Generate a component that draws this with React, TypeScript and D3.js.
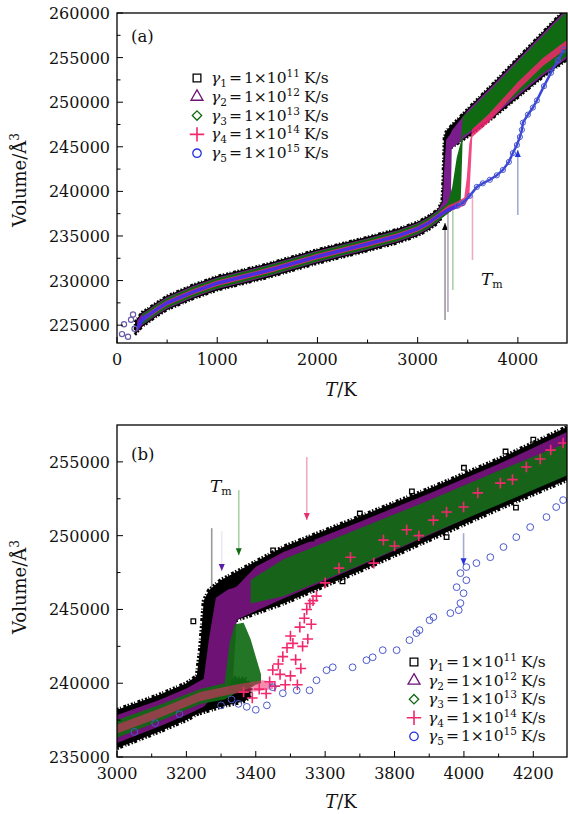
import React from 'react';
import * as d3 from 'd3';

type Row = [number, number, number]; // T, lower V, upper V
type Pt = [number, number];

// ---------- panel (a): 0-4500 K ----------
const blackA: Row[][] = [[
  [180, 223900, 225400], [250, 224800, 226500], [300, 225200, 226800], [400, 226000, 227600],
  [500, 226700, 228300], [750, 227900, 229500], [1000, 228900, 230500], [1500, 230300, 231900],
  [2000, 231900, 233500], [2500, 233300, 234900], [2800, 234200, 235800], [3000, 235000, 236600],
  [3100, 235600, 237200], [3200, 236400, 238000], [3240, 237000, 238900], [3250, 237500, 241500],
  [3262, 239500, 246000], [3280, 244000, 246700], [3300, 244600, 247000], [3500, 246100, 249300],
  [3750, 248200, 252100], [4000, 250500, 255000], [4250, 252800, 257900], [4500, 254800, 260800],
]];
const purpleA: Row[][] = [[
  [200, 224200, 225500], [250, 225000, 226300], [300, 225350, 226650], [400, 226150, 227450],
  [500, 226850, 228150], [750, 228050, 229350], [1000, 229050, 230350], [1500, 230450, 231750],
  [2000, 232050, 233350], [2500, 233450, 234750], [2800, 234350, 235650], [3000, 235150, 236450],
  [3100, 235750, 237050], [3200, 236550, 237850], [3250, 237200, 238800], [3262, 237500, 242000],
  [3285, 237900, 245800], [3330, 238300, 246500], [3340, 244800, 246800], [3500, 246300, 249100],
  [3750, 248400, 251900], [4000, 250700, 254800], [4250, 253000, 257700], [4500, 255000, 260600],
]];
const greenA: Row[][] = [[
  [250, 225100, 226200], [300, 225450, 226550], [400, 226250, 227350], [500, 226950, 228050],
  [750, 228150, 229250], [1000, 229150, 230250], [1500, 230550, 231650], [2000, 232150, 233250],
  [2500, 233550, 234650], [2800, 234450, 235550], [3000, 235250, 236350], [3100, 235850, 236950],
  [3200, 236650, 237750], [3300, 237500, 238700], [3345, 237900, 240500], [3390, 238300, 243800],
  [3430, 239000, 245500], [3450, 246200, 248400], [3500, 246550, 248850], [3750, 248650, 251650],
  [4000, 250950, 254550], [4250, 253250, 257450], [4500, 255250, 260350],
]];
const pinkA: Row[][] = [[
  [250, 225350, 225950], [300, 225700, 226300], [400, 226500, 227100], [500, 227200, 227800],
  [750, 228400, 229000], [1000, 229400, 230000], [1500, 230800, 231400], [2000, 232400, 233000],
  [2500, 233800, 234400], [2800, 234700, 235300], [3000, 235500, 236100], [3100, 236100, 236700],
  [3200, 236900, 237500], [3300, 237700, 238400], [3400, 238100, 238900], [3465, 238400, 239300],
  [3490, 238800, 241500], [3515, 239300, 245300], [3545, 246100, 247000], [3700, 247650, 248550],
  [4000, 251350, 252250], [4250, 254050, 254950], [4500, 256150, 257050],
]];
const blueA: Row[][] = [[
  [200, 224350, 225050], [250, 225250, 225950], [300, 225750, 226250], [400, 226600, 227000],
  [500, 227300, 227700], [750, 228500, 228900], [1000, 229500, 229900], [1500, 230900, 231300],
  [2000, 232500, 232900], [2500, 233900, 234300], [2800, 234800, 235200], [3000, 235600, 236000],
  [3100, 236200, 236600], [3200, 237000, 237400], [3300, 237700, 238150], [3400, 238150, 238650],
]];
const blueA_path: Pt[] = [
  [3400, 238400], [3450, 238700], [3520, 239500], [3590, 240500], [3650, 240900], [3720, 241300],
  [3790, 241800], [3850, 242400], [3910, 243300], [3950, 244300], [3990, 245200], [4020, 246100],
  [4040, 246900], [4050, 247700], [4100, 248600], [4150, 249400], [4190, 250200], [4260, 251800],
  [4330, 253300], [4400, 254700], [4460, 255900],
];
const blueA_start: Pt[] = [[50, 224000], [70, 225100], [110, 223700], [140, 225600], [160, 226200], [175, 224600]];
// arrows: [tail V, head V] for the Tm markers
const arrowsA: Pt[] = [[225570, 236450], [226470, 238460], [228930, 239000], [232300, 239600], [237350, 244630]];

// ---------- panel (b): 3000-4300 K ----------
const blackB: Row[][] = [[
  [3000, 235600, 238200], [3120, 236700, 239200], [3200, 237500, 240000], [3230, 237900, 240500],
  [3240, 238200, 242500], [3250, 238600, 245600], [3265, 241000, 246300], [3285, 243900, 246700],
  [3300, 243900, 247000], [3480, 245400, 249250], [3700, 247600, 251300], [3900, 249700, 253200],
  [4100, 251800, 255200], [4300, 253800, 257400],
], [
  [3230, 237900, 240200], [3300, 238400, 240400], [3370, 238800, 240300], [3385, 239200, 239800],
]];
const purpleB: Row[][] = [[
  [3000, 235950, 237850], [3120, 237050, 238850], [3200, 237850, 239650], [3250, 238400, 240300],
  [3265, 238800, 243000], [3285, 239100, 245800], [3320, 239500, 246350], [3335, 240500, 246450],
  [3345, 244300, 246550], [3400, 244900, 247900], [3480, 245750, 248900], [3700, 247950, 250950],
  [3900, 250050, 252850], [4100, 252150, 254850], [4300, 254150, 257050],
]];
const greenB: Row[][] = [[
  [3000, 236300, 237500], [3120, 237400, 238500], [3240, 238600, 239600], [3310, 238900, 240000],
  [3325, 239100, 242800], [3340, 239300, 244000], [3365, 239500, 244100], [3385, 239700, 243000],
  [3400, 239900, 241800], [3415, 240000, 240600],
], [
  [3385, 245400, 247000], [3480, 245900, 248400], [3700, 248000, 250500], [3900, 250100, 252400],
  [4100, 252100, 254400], [4300, 254100, 256300],
]];
const pinkB: Row[][] = [[
  [3000, 236600, 237200], [3120, 237650, 238250], [3240, 238800, 239400], [3340, 239300, 239900],
  [3420, 239500, 240200], [3450, 239600, 240100],
]];
const pinkB_pts: Pt[] = [
  [3365, 239400], [3390, 239000], [3410, 239600], [3430, 239300], [3440, 240100], [3455, 239800],
  [3449, 240900], [3465, 241300], [3478, 241800], [3490, 242400], [3470, 240600], [3500, 243200],
  [3507, 242700], [3515, 241600], [3527, 243800], [3535, 242500], [3540, 244400], [3547, 245000],
  [3556, 245400], [3560, 244000], [3500, 240500], [3485, 239900], [3520, 239900], [3530, 241000],
  [3550, 243000], [3565, 245600], [3575, 245900],
  [3600, 246800], [3640, 247800], [3673, 248540], [3740, 248140], [3768, 249700], [3800, 249300],
  [3835, 250400], [3870, 250000], [3912, 251050], [3950, 251600], [3999, 251940], [4040, 252900],
  [4105, 253560], [4140, 253800], [4180, 254650], [4220, 255200], [4250, 255800], [4286, 256280],
];
const blueB_pts: Pt[] = [
  [3050, 236700], [3110, 237300], [3180, 237900], [3300, 238500], [3330, 238900], [3350, 238600],
  [3374, 238400], [3400, 238200], [3432, 238500], [3449, 239730], [3478, 239320], [3518, 239520],
  [3555, 239520], [3575, 240200], [3604, 240880], [3622, 241080], [3679, 241080], [3719, 241560],
  [3737, 241760], [3766, 242240], [3806, 242240], [3843, 242920], [3863, 243400], [3872, 243600],
  [3901, 244270], [3912, 244480], [3961, 244750], [3990, 245430], [3985, 244950], [3999, 246100],
  [3979, 246510], [4007, 246980], [3990, 247460], [4007, 247870], [4036, 248140], [4076, 248540],
  [4114, 249230], [4151, 249900], [4191, 250580], [4238, 251260], [4266, 251940], [4286, 252410],
];
const blackB_pts: Pt[] = [
  [3450, 249000], [3560, 249800], [3700, 251500], [3850, 253000], [4000, 254600], [4120, 255700],
  [4200, 256500], [3650, 246900], [3950, 249900], [4150, 251900], [3220, 244200],
];
const arrowsB: Pt[] = [[250510, 246500], [250300, 247600], [253090, 248680], [255330, 251060], [250170, 248000]];

const meltT = [3273, 3302, 3351, 3547, 3999];

// ticks
const xTicksA = [0, 1000, 2000, 3000, 4000];
const xMinorA = [500, 1500, 2500, 3500];
const yTicksA = [225000, 230000, 235000, 240000, 245000, 250000, 255000, 260000];
const yMinorA = [227500, 232500, 237500, 242500, 247500, 252500, 257500];
const xTicksB = [3000, 3200, 3400, 3600, 3800, 4000, 4200];
const xLabelsB = ['3000', '3200', '3400', '3300', '3800', '4000', '4200'];
const xMinorB = [3100, 3300, 3500, 3700, 3900, 4100];
const yTicksB = [235000, 240000, 245000, 250000, 255000];
const yMinorB = [237500, 242500, 247500, 252500];

const legendExp = ['11', '12', '13', '14', '15'];

const C = {
  black: '#000000', purple: '#6e1276', green: '#0f6a12', pink: '#f2286e', blue: '#2433dd',
  blueO: '#4b58cc',
};
const arrowCol = ['#9a9a9a', '#b6a4bf', '#a9d2a9', '#f0aac4', '#a3aad8'];
const headCol = ['#000', '#5a1fa8', '#0f6a12', '#e8306e', '#2433dd'];
const FONT = 'DejaVu Serif';

const L = 117, R = 567;

function Marker({ kind, x, y, s = 1 }: { kind: number; x: number; y: number; s?: number }) {
  const sym = [d3.symbolSquare, d3.symbolTriangle, d3.symbolSquare, d3.symbolPlus, d3.symbolCircle][kind];
  const size = [60, 62, 44, 70, 56][kind] * s;
  const col = [C.black, C.purple, C.green, C.pink, C.blue][kind];
  const rot = kind === 2 ? 45 : 0;
  return (
    <path d={d3.symbol(sym, size)() as string} transform={`translate(${x},${y}) rotate(${rot})`}
      fill="none" stroke={col} strokeWidth={kind === 3 ? 1.6 : 1.3} />
  );
}

function Legend({ x, y, dy }: { x: number; y: number; dy: number }) {
  return (
    <g fontFamily={FONT} fontSize={15.5}>
      {legendExp.map((e, i) => (
        <g key={i} transform={`translate(${x},${y + i * dy})`}>
          <Marker kind={i} x={0} y={0} />
          <text x={14} y={5} fill="#111">
            <tspan fontStyle="italic">γ</tspan>
            <tspan fontSize={10.5} dy={4}>{i + 1}</tspan>
            <tspan dy={-4} dx={2}>=</tspan>
            <tspan dx={2}>1×10</tspan>
            <tspan fontSize={10.5} dy={-6}>{e}</tspan>
            <tspan dy={6} dx={4}>K/s</tspan>
          </text>
        </g>
      ))}
    </g>
  );
}

function Bands({ sets, x, y, clip }: { sets: { rows: Row[][]; fill: string; tex?: number; op?: number }[]; x: any; y: any; clip: string }) {
  const area = d3.area<Row>().x(d => x(d[0])).y0(d => y(d[1])).y1(d => y(d[2]));
  return (
    <g clipPath={`url(#${clip})`}>
      {sets.map((s, i) => s.rows.map((seg, j) => (
        <path key={`${i}-${j}`} d={area(seg) as string} fill={s.fill} opacity={s.op ?? 1}
          stroke={s.tex ? s.fill : 'none'} strokeWidth={s.tex || 0}
          strokeDasharray={s.tex ? '2 1.5 1 2.5 3 1.5 1.5 2' : undefined} />
      )))}
    </g>
  );
}

function Axes({ x, y, top, bottom, xt, xl, xm, yt, ym }: any) {
  return (
    <g fontFamily={FONT} fontSize={16} fill="#111">
      <rect x={L} y={top} width={R - L} height={bottom - top} fill="none" stroke="#000" strokeWidth={1.3} />
      {xt.map((t: number, i: number) => (
        <g key={'xt' + i}>
          <line x1={x(t)} x2={x(t)} y1={bottom} y2={bottom - 6} stroke="#000" />
          <text x={x(t)} y={bottom + 22} textAnchor="middle">{xl[i]}</text>
        </g>
      ))}
      {xm.map((t: number, i: number) => (
        <line key={'xm' + i} x1={x(t)} x2={x(t)} y1={bottom} y2={bottom - 3.5} stroke="#000" />
      ))}
      {yt.map((t: number, i: number) => (
        <g key={'yt' + i}>
          <line x1={L} x2={L + 6} y1={y(t)} y2={y(t)} stroke="#000" />
          <text x={L - 7} y={y(t) + 6} textAnchor="end">{t}</text>
        </g>
      ))}
      {ym.map((t: number, i: number) => (
        <line key={'ym' + i} x1={L} x2={L + 3.5} y1={y(t)} y2={y(t)} stroke="#000" />
      ))}
    </g>
  );
}

function Arrow({ x, y1, y2, col, head }: { x: number; y1: number; y2: number; col: string; head: string }) {
  const dir = y2 > y1 ? 1 : -1;
  return (
    <g>
      <line x1={x} x2={x} y1={y1} y2={y2} stroke={col} strokeWidth={1.6} />
      <path d={`M${x - 3},${y2 - dir * 7}L${x + 3},${y2 - dir * 7}L${x},${y2}Z`} fill={head} />
    </g>
  );
}

export default function App() {
  const xA = d3.scaleLinear().domain([0, 4500]).range([L, R + 1]);
  const yA = d3.scaleLinear().domain([223000, 260000]).range([343, 13]);
  const xB = d3.scaleLinear().domain([3000, 4300]).range([L, R + 1]);
  const yB = d3.scaleLinear().domain([235000, 257500]).range([757, 425]);
  const lineA = d3.line<Pt>().x(d => xA(d[0])).y(d => yA(d[1]));

  return (
    <svg width={568} height={814} style={{ position: 'absolute', left: 0, top: 0, background: '#fff' }}>
      <defs>
        <clipPath id="ca"><rect x={L} y={13} width={R - L} height={330} /></clipPath>
        <clipPath id="cb"><rect x={L} y={425} width={R - L} height={332} /></clipPath>
      </defs>

      {/* ---------- panel (a) ---------- */}
      <g clipPath="url(#ca)">
        {arrowsA.map((a, i) => (
          <Arrow key={i} x={xA(meltT[i])} y1={yA(a[0])} y2={yA(a[1])} col={arrowCol[i]} head={i === 3 ? 'none' : headCol[i]} />
        ))}
      </g>
      <Bands x={xA} y={yA} clip="ca" sets={[
        { rows: blackA, fill: C.black, tex: 2.5 },
        { rows: purpleA, fill: '#7a1d8c' },
        { rows: greenA, fill: C.green },
        { rows: pinkA, fill: C.pink, op: 0.85 },
        { rows: blueA, fill: '#3a2cf0', op: 0.9 },
      ]} />
      <g clipPath="url(#ca)">
        <path d={lineA(blueA_path) as string} fill="none" stroke="#3a46d8" strokeWidth={2.5} />
        {blueA_path.map((p, i) => (
          <circle key={i} cx={xA(p[0])} cy={yA(p[1])} r={2.6} fill="none" stroke={C.blueO} strokeWidth={1} />
        ))}
        {blueA_start.map((p, i) => (
          <circle key={i} cx={xA(p[0])} cy={yA(p[1])} r={2.6} fill="none" stroke="#6a5aa8" strokeWidth={1.2} />
        ))}
      </g>
      <Axes x={xA} y={yA} top={13} bottom={343} xt={xTicksA} xl={xTicksA.map(String)} xm={xMinorA} yt={yTicksA} ym={yMinorA} />
      <text x={131} y={42} fontFamily={FONT} fontSize={16.5} fill="#111">(a)</text>
      <Legend x={197} y={78} dy={18.8} />
      <text x={481} y={285} fontFamily={FONT} fontSize={17} fill="#111">
        <tspan fontStyle="italic">T</tspan><tspan fontSize={11} dy={3}>m</tspan>
      </text>

      {/* ---------- panel (b) ---------- */}
      <g clipPath="url(#cb)">
        {arrowsB.map((a, i) => (
          <Arrow key={i} x={xB(meltT[i])} y1={yB(a[0])} y2={yB(a[1])} col={i === 1 ? '#efe8f2' : arrowCol[i]} head={i === 0 ? 'none' : headCol[i]} />
        ))}
      </g>
      <Bands x={xB} y={yB} clip="cb" sets={[
        { rows: blackB, fill: C.black, tex: 4 },
        { rows: purpleB, fill: C.purple },
        { rows: greenB, fill: C.green, op: 0.92 },
        { rows: pinkB, fill: C.pink, op: 0.55 },
      ]} />
      <g clipPath="url(#cb)">
        {blackB_pts.map((p, i) => (
          <Marker key={'k' + i} kind={0} x={xB(p[0])} y={yB(p[1])} s={0.35} />
        ))}
        {pinkB_pts.map((p, i) => (
          <Marker key={'p' + i} kind={3} x={xB(p[0])} y={yB(p[1])} s={0.55} />
        ))}
        {blueB_pts.map((p, i) => (
          <circle key={'b' + i} cx={xB(p[0])} cy={yB(p[1])} r={3.4} fill="none" stroke={C.blueO} strokeWidth={1} />
        ))}
      </g>
      <Axes x={xB} y={yB} top={425} bottom={757} xt={xTicksB} xl={xLabelsB} xm={xMinorB} yt={yTicksB} ym={yMinorB} />
      <text x={131} y={460} fontFamily={FONT} fontSize={16.5} fill="#111">(b)</text>
      <Legend x={414} y={662} dy={18.6} />
      <text x={210} y={492} fontFamily={FONT} fontSize={17} fill="#111">
        <tspan fontStyle="italic">T</tspan><tspan fontSize={11} dy={3}>m</tspan>
      </text>

      {/* axis titles */}
      {[{ cy: 180, by: 396 }, { cy: 587, by: 808 }].map((a, i) => (
        <g key={i} fontFamily={FONT} fontSize={18} fill="#111">
          <text transform={`translate(26,${a.cy}) rotate(-90)`} textAnchor="middle">
            Volume/Å<tspan fontSize={12} dy={-7}>3</tspan>
          </text>
          <text x={341} y={a.by} textAnchor="middle">
            <tspan fontStyle="italic">T</tspan>/K
          </text>
        </g>
      ))}
    </svg>
  );
}
